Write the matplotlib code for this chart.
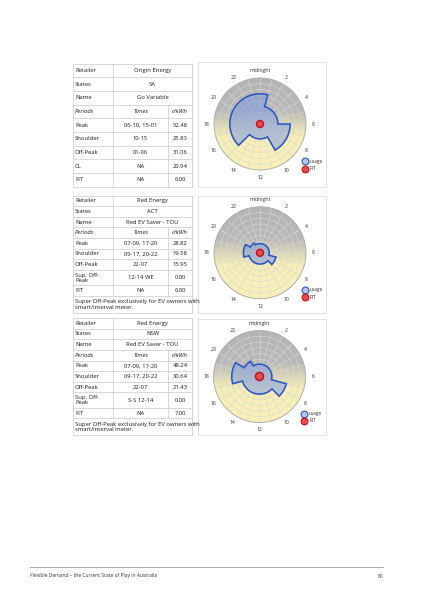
import re
import numpy as np
import matplotlib
matplotlib.use('Agg')
import matplotlib.pyplot as plt
from matplotlib.colors import LinearSegmentedColormap

plt.rcParams['font.family'] = ['Open Sans', 'DejaVu Sans']

# table data
retailers = ['Origin Energy', 'Red Energy', 'Red Energy']
states = ['SA', 'ACT', 'NSW']
plan_names = ['Go Variable', 'Red EV Saver - TOU', 'Red EV Saver - TOU']

periods_sa = ['Peak', 'Shoulder', 'Off-Peak', 'CL', 'FIT']
times_sa = ['06-10, 15-01', '10-15', '01-06', 'NA', 'NA']
rates_sa = [52.48, 25.83, 31.06, 20.94, 6.00]

periods_act = ['Peak', 'Shoulder', 'Off-Peak', 'Sup. Off-\nPeak', 'FIT']
times_act = ['07-09, 17-20', '09-17, 20-22', '22-07', '12-14 WE', 'NA']
rates_act = [28.82, 19.58, 15.95, 0.00, 6.00]

periods_nsw = ['Peak', 'Shoulder', 'Off-Peak', 'Sup. Off-\nPeak', 'FIT']
times_nsw = ['07-09, 17-20', '09-17, 20-22', '22-07', 'S-S 12-14', 'NA']
rates_nsw = [48.24, 30.64, 21.43, 0.00, 7.00]

note = 'Super Off-Peak exclusively for EV owners with\nsmart/interval meter.'

hour_labels = ['midnight', '2', '4', '6', '8', '10', '12', '14', '16', '18', '20', '22']
ring_values = [10, 20, 30, 40, 50, 60, 70, 80]

footer = 'Flexible Demand \u2013 the Current State of Play in Australia'
page_no = '80'

LINE = '#c9c9c9'
TXT = '#1a1a1a'
FS = 4.2


def hourly(times, rates):
    # weekday price per hour from the "HH-HH" spans in the table
    vals = np.zeros(24)
    for t, rate in zip(times, rates):
        for part in t.split(','):
            part = part.strip()
            if re.fullmatch(r'\d\d-\d\d', part):
                h, end = int(part[:2]), int(part[3:])
                while h != end:
                    vals[h] = rate
                    h = (h + 1) % 24
    return vals


fig = plt.figure(figsize=(4.24, 6.0), dpi=100)
pg = fig.add_axes([0, 0, 1, 1])
pg.set_xlim(0, 424)
pg.set_ylim(600, 0)
pg.axis('off')

x0, x1, x2, x3 = 72.5, 113, 168, 192


def hline(y, a=x0, b=x3):
    pg.plot([a, b], [y, y], color=LINE, lw=0.5)


def vline(x, a, b):
    pg.plot([x, x], [a, b], color=LINE, lw=0.5)


def draw_table(top, h, i, periods, times, rates, with_note):
    heights = [h] * 4
    for p in periods:
        heights.append(h * 1.45 if '\n' in p else h)
    if with_note:
        heights.append(h * 1.6)
    ys = np.concatenate([[top], top + np.cumsum(heights)])
    for y in ys:
        hline(y)
    body_end = ys[9]
    vline(x0, ys[0], ys[-1])
    vline(x3, ys[0], ys[-1])
    vline(x1, ys[0], body_end)
    vline(x2, ys[3], body_end)
    mid = (ys[:-1] + ys[1:]) / 2
    head = [('Retailer', retailers[i]), ('States', states[i]), ('Name', plan_names[i])]
    for k, (lab, val) in enumerate(head):
        pg.text(x0 + 2.5, mid[k], lab, fontsize=FS, color=TXT, va='center')
        pg.text((x1 + x3) / 2, mid[k], val, fontsize=FS, color=TXT,
                va='center', ha='center')
    pg.text(x0 + 2.5, mid[3], 'Periods', fontsize=FS, color=TXT, va='center', style='italic')
    pg.text((x1 + x2) / 2, mid[3], 'Times', fontsize=FS, color=TXT, va='center',
            ha='center', style='italic')
    pg.text((x2 + x3) / 2, mid[3], 'c/kWh', fontsize=FS, color=TXT, va='center',
            ha='center', style='italic')
    for k, (p, t, r) in enumerate(zip(periods, times, rates)):
        pg.text(x0 + 2.5, mid[4 + k], p, fontsize=FS, color=TXT, va='center',
                linespacing=1.0)
        pg.text((x1 + x2) / 2, mid[4 + k], t, fontsize=FS, color=TXT,
                va='center', ha='center')
        pg.text((x2 + x3) / 2, mid[4 + k], f'{r:.2f}', fontsize=FS, color=TXT,
                va='center', ha='center')
    if with_note:
        pg.text(x0 + 2.5, mid[-1], note, fontsize=FS, color=TXT, va='center',
                linespacing=1.1)


draw_table(63.5, 13.7, 0, periods_sa, times_sa, rates_sa, False)
draw_table(195.5, 10.63, 1, periods_act, times_act, rates_act, True)
draw_table(318.0, 10.63, 2, periods_nsw, times_nsw, rates_nsw, True)

# chart boxes
for top, bot in [(62, 187), (196, 313), (319, 435)]:
    pg.plot([198, 326, 326, 198, 198], [top, top, bot, bot, top], color='#d4d4d4', lw=0.5)

cmap = LinearSegmentedColormap.from_list(
    'daynight', [(0, '#f8f0b8'), (0.38, '#f6eeb6'), (0.66, '#b8b8b8'), (1, '#b4b4b4')])
rmax = 80
R = 46.0


def polar_chart(cx, cy, times, rates, fit):
    ax = fig.add_axes([(cx - R) / 424, 1 - (cy + R) / 600, 2 * R / 424, 2 * R / 600],
                      projection='polar')
    ax.set_theta_zero_location('N')
    ax.set_theta_direction(-1)
    ax.set_facecolor('none')
    ax.set_ylim(0, rmax)

    T, Rr = np.meshgrid(np.linspace(0, 2 * np.pi, 241), np.linspace(0, rmax, 61))
    ax.pcolormesh(T, Rr, Rr * np.cos(T), cmap=cmap, vmin=-rmax, vmax=rmax,
                  shading='gouraud', zorder=0.5)

    ax.set_xticks(np.deg2rad(np.arange(0, 360, 15)))
    ax.set_xticklabels([])
    ax.set_yticks(ring_values)
    ax.set_yticklabels([])
    ax.grid(True, color='#d8d8d2', lw=0.4)
    ax.spines['polar'].set_color('#a9a9a9')
    ax.spines['polar'].set_linewidth(0.6)
    ax.tick_params(length=0)

    for k, lab in enumerate(hour_labels):
        ax.text(np.deg2rad(k * 30), rmax * 1.16, lab, fontsize=3.7, color='#333333',
                ha='center', va='center', clip_on=False)
    for v in (40, 60, 80):
        ax.text(np.deg2rad(87), v - 1, str(v), fontsize=2.6, color='#c8c8c8',
                ha='right', va='bottom')

    vals = hourly(times, rates)
    th, rr = [], []
    for hr in range(24):
        seg = np.linspace(hr, hr + 1, 16) * 2 * np.pi / 24
        th.extend(seg)
        rr.extend([vals[hr]] * 16)
    ax.fill(th, rr, facecolor=(0.45, 0.58, 0.9, 0.48), edgecolor='#2c56c4',
            lw=1.15, zorder=3)

    circ = np.linspace(0, 2 * np.pi, 100)
    ax.fill(circ, np.full(100, fit), facecolor='#ec4a53', edgecolor='#c0141d',
            lw=1.1, zorder=4)

    # legend
    lx = cx + 44.5
    for dy, fc, ec, lab in [(37, '#b4c8ef', '#2c56c4', 'usage'),
                            (44.5, '#ec4a53', '#c0141d', 'FIT')]:
        pg.scatter([lx], [cy + dy], s=24, facecolor=fc, edgecolor=ec, lw=0.8, zorder=5)
        pg.text(lx + 5, cy + dy, lab, fontsize=3.4, color='#333333', va='center')


polar_chart(260, 124, times_sa, rates_sa, rates_sa[-1])
polar_chart(260, 252.8, times_act, rates_act, rates_act[-1])
polar_chart(259.5, 376.5, times_nsw, rates_nsw, rates_nsw[-1])

# footer
pg.plot([30, 383], [566.7, 566.7], color='#9a9a9a', lw=0.6)
pg.text(30, 576, footer, fontsize=3.6, color='#333333', va='center')
pg.text(383, 576, page_no, fontsize=3.6, color='#333333', va='center', ha='right')

fig.savefig('out.png', dpi=100)
